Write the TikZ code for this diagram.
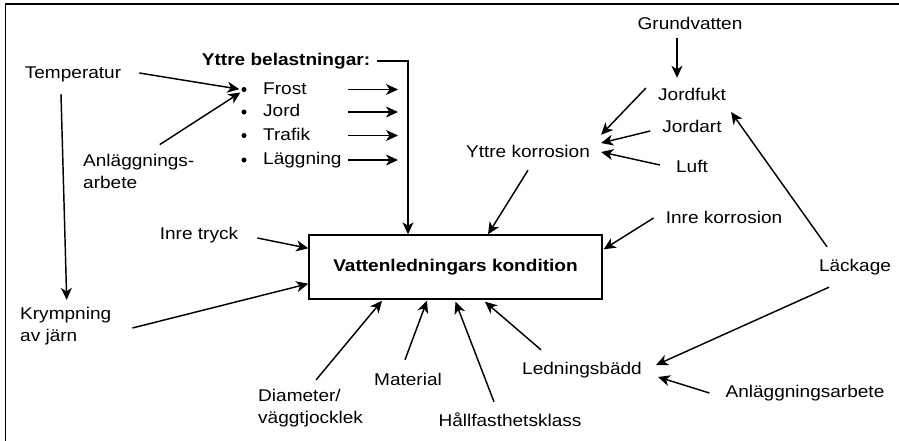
\documentclass[tikz,border=0pt]{standalone}
\usepackage{fontspec}
\setmainfont{Liberation Sans}[FakeStretch=1.12]
\usetikzlibrary{arrows.meta}

\tikzset{
    lbl/.style={inner sep=0pt, text height=12.5pt, text depth=3.5pt, font=\fontsize{17}{22}\selectfont},
    ml/.style={inner sep=0pt, align=left, font=\fontsize{17}{22}\selectfont},
    arr/.style={line width=1.45pt, -{Stealth[length=12pt,width=11pt,inset=3.5pt]}},
    dot/.style={circle, fill, inner sep=0pt, minimum size=5pt},
    box/.style={draw, line width=1.4pt, minimum width=293pt, minimum height=64pt, inner sep=0pt}
}

\begin{document}
\begin{tikzpicture}[x=1pt,y=-1pt]
    \useasboundingbox (0,0) rectangle (899,440);
    \draw[line width=1.3pt] (5.5,4) rectangle (930,470);

    \node[box, font=\bfseries\fontsize{17}{22}\selectfont] (main) at (455.5,267) {Vattenledningars kondition};

    \node[lbl] (temp) at (73,74) {Temperatur};
    \node[lbl, font=\bfseries\fontsize{17}{22}\selectfont] (yb) at (286,61) {Yttre belastningar:};
    \node[ml, anchor=west] (anl1) at (83,171) {Anläggnings-\\arbete};
    \node[ml, anchor=west] (kry) at (20,326) {Krympning\\av järn};
    \node[lbl] (itr) at (199,235) {Inre tryck};
    \node[ml, anchor=west] (dia) at (258,408) {Diameter/\\väggtjocklek};
    \node[lbl] (mat) at (408,381) {Material};
    \node[lbl] (hal) at (510,422) {Hållfasthetsklass};
    \node[lbl] (led) at (582,370) {Ledningsbädd};
    \node[lbl] (anl2) at (805,393) {Anläggningsarbete};
    \node[lbl] (lac) at (855,267) {Läckage};
    \node[lbl] (ink) at (724,219) {Inre korrosion};
    \node[lbl] (yk) at (528,153) {Yttre korrosion};
    \node[lbl] (gv) at (690,25) {Grundvatten};
    \node[lbl] (jf) at (692,96) {Jordfukt};
    \node[lbl] (ja) at (692,128) {Jordart};
    \node[lbl] (luft) at (692,168) {Luft};

    \coordinate (as) at (348,0);
    \coordinate (ae) at (398,0);
    \foreach \n/\t/\y in {1/Frost/89.5, 2/Jord/112, 3/Trafik/135.5, 4/Läggning/160}{
        \node[dot] (b\n) at (244,\y) {};
        \node[lbl, anchor=west] (it\n) at (263,\y) {\t};
        \draw[arr] (it\n -| as) -- (it\n -| ae);
    }

    \draw[arr] ([xshift=7pt]yb.east) -| ([xshift=-47.5pt]main.north);
    \draw[arr, shorten >=2pt] ([shift={(18,-1)}]temp.east) -- (b1.west);
    \draw[arr, shorten >=2pt] ([shift={(21,-9)}]anl1.north) -- (b1.south west);
    \draw[arr] ([shift={(-12,12)}]temp.south) -- ([shift={(1,-7)}]kry.north);
    \draw[arr] ([shift={(21,2)}]kry.east) -- ([yshift=16pt]main.south west);
    \draw[arr] ([shift={(19,3)}]itr.east) -- ([yshift=-14pt]main.north west);
    \draw[arr] ([shift={(5.5,-9)}]dia.north) -- ([shift={(-73.5,1)}]main.south);
    \draw[arr] ([shift={(-3,-13)}]mat.north) -- ([shift={(-28.5,1)}]main.south);
    \draw[arr] ([shift={(-16,-12)}]hal.north) -- ([shift={(0,2)}]main.south);
    \draw[arr] ([shift={(-41,-12)}]led.north) -- ([shift={(29.5,2)}]main.south);
    \draw[arr] ([shift={(-12,-1)}]ink.west) -- ([shift={(1,15)}]main.north east);
    \draw[arr] ([shift={(0,9)}]yk.south) -- ([xshift=32.5pt]main.north);
    \draw[arr] ([shift={(-13,5)}]gv.south) -- ([shift={(-15,-10)}]jf.north);
    \draw[arr] ([shift={(-12,-8)}]jf.west) -- ([shift={(11,-10)}]yk.north east);
    \draw[arr] ([shift={(-12,3)}]ja.west) -- ([shift={(11,-10)}]yk.east);
    \draw[arr] ([shift={(-16,-3)}]luft.west) -- ([shift={(11,-1)}]yk.east);
    \draw[arr] ([shift={(-28,-12)}]lac.north) -- ([shift={(5,16)}]jf.east);
    \draw[arr] ([shift={(-26,12)}]lac.south) -- ([shift={(14,-5)}]led.east);
    \draw[arr] ([shift={(-16,0)}]anl2.west) -- ([shift={(16,7)}]led.east);
\end{tikzpicture}
\end{document}
